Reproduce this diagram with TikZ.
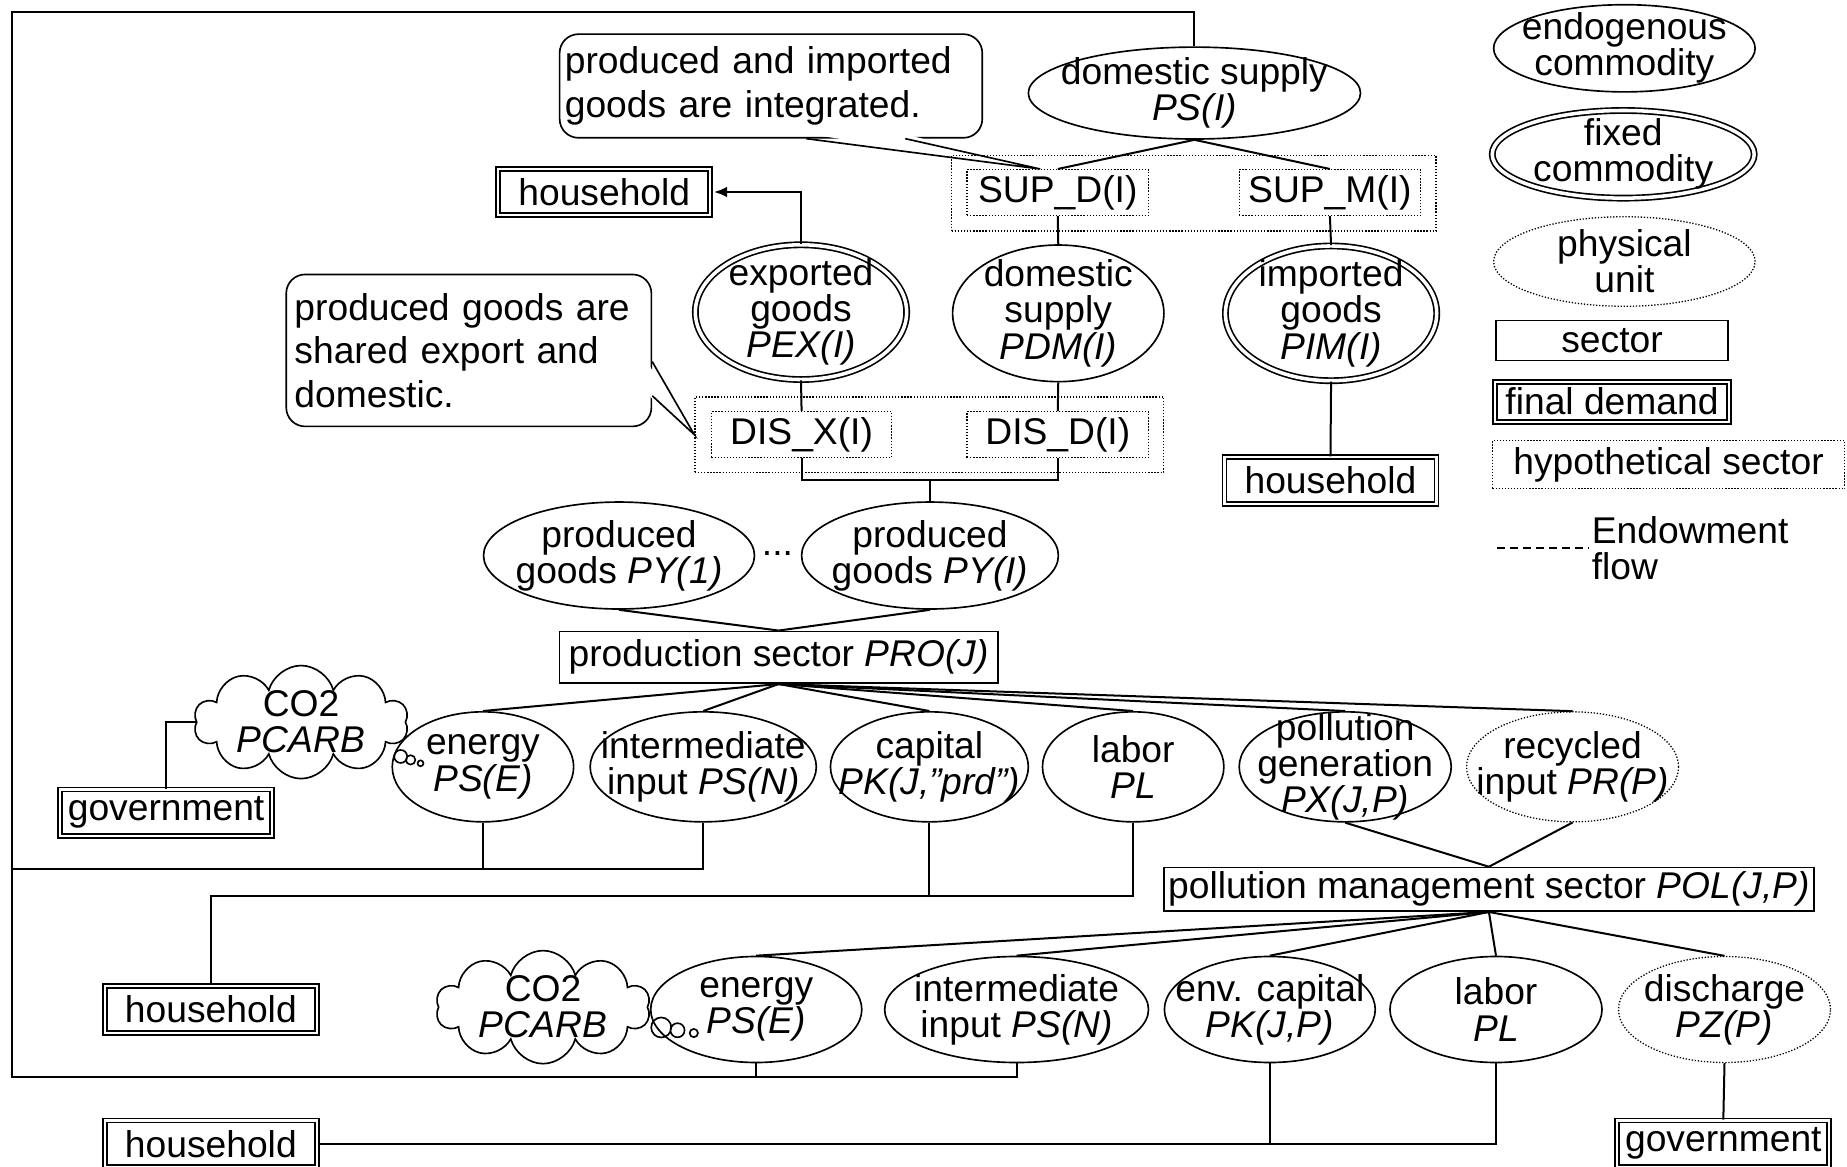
\documentclass[tikz,border=0pt]{standalone}
\usepackage{fontspec}
\setmainfont{Liberation Sans}
\usetikzlibrary{shapes.geometric,shapes.symbols,shapes.callouts,arrows.meta}

\tikzset{
  dotline/.style={line width=0.55pt, dash pattern=on 0.55pt off 0.75pt},
  commodity/.style={ellipse, draw, line width=0.7pt, inner xsep=-30pt, inner ysep=-20pt, align=center},
  fixedcomm/.style={commodity, double, double distance=1.5pt},
  physunit/.style={commodity, dotline},
  sectorbox/.style={rectangle, draw, line width=0.7pt, inner sep=0pt},
  hypobox/.style={sectorbox, dotline},
  finaldem/.style={sectorbox, double, line width=0.8pt, double distance=0.9pt, minimum width=90pt, minimum height=19.75pt},
  callbox/.style={rectangle, draw, line width=0.7pt, rounded corners=8pt, fill=white, align=left, font=\fontsize{15.8}{18.5}\selectfont},
  co2/.style={cloud callout, draw, line width=0.7pt, cloud puffs=10, cloud ignores aspect, inner xsep=-8pt, inner ysep=-8pt, align=center, minimum width=91pt, minimum height=48pt, callout pointer segments=3},
  link/.style={line width=0.85pt},
}

\begin{document}
\begin{tikzpicture}[x=0.5pt,y=-0.5pt,font=\fontsize{15.8}{15.3}\selectfont]
\useasboundingbox (0,0) rectangle (1568,990.7);

% legend
\node[commodity, minimum width=111pt, minimum height=37pt] (lgEndo) at (1379,41) {endogenous\\commodity};
\node[fixedcomm, minimum width=111.2pt, minimum height=37.2pt] (lgFixed) at (1378,131) {fixed\\commodity};
\node[physunit, minimum width=111pt, minimum height=38pt] (lgPhys) at (1379,222) {physical\\unit};
\node[sectorbox, minimum width=98.5pt, minimum height=17pt] (lgSector) at (1368.5,289) {sector};
\node[finaldem, minimum width=99pt, minimum height=17pt] (lgFinal) at (1368.5,341) {final demand};
\node[hypobox, minimum width=149.5pt, minimum height=20.5pt] (lgHypo) at (1416.5,394.5) {hypothetical sector};
\coordinate (lgFlowA) at (1271,465);
\coordinate (lgFlowB) at (1349,465);
\draw[line width=0.7pt, dash pattern=on 3.5pt off 2pt] (lgFlowA) -- (lgFlowB);
\node[anchor=west, align=left, inner sep=1pt] (lgFlow) at (lgFlowB) {Endowment\\flow};

% supply side
\node[commodity, minimum width=141pt, minimum height=39pt] (PS) at (1014,79) {domestic supply\\\textit{PS(I)}};
\node[callbox, text width=175pt, minimum height=44pt, inner xsep=2.2pt] (noteSup) at (654.5,73) {produced and imported\\goods are integrated.};
\node[hypobox, minimum width=77pt, minimum height=19.5pt] (SUPD) at (898,163.5) {SUP\_D(I)};
\node[hypobox, minimum width=77pt, minimum height=19.5pt] (SUPM) at (1129,163.5) {SUP\_M(I)};
\coordinate (noteSupTip) at ([xshift=-7.5pt]SUPD.north);
\fill[white] ([xshift=15.5pt,yshift=2pt]noteSup.south) -- (noteSupTip) -- ([xshift=56.5pt,yshift=2pt]noteSup.south) -- cycle;
\draw[line width=0.7pt] ([xshift=15pt]noteSup.south) -- (noteSupTip) -- ([xshift=57pt]noteSup.south);
\node[hypobox, minimum width=205.5pt, minimum height=32pt] (SUPbox) at (1013.5,164) {};

\node[finaldem] (hhExp) at (513,163) {household};
\node[fixedcomm, minimum width=89.7pt, minimum height=57.2pt] (PEX) at (680,265) {exported\\goods\\\textit{PEX(I)}};
\node[commodity, minimum width=89.7pt, minimum height=58pt] (PDM) at (898.4,266) {domestic\\supply\\\textit{PDM(I)}};
\node[fixedcomm, minimum width=89.7pt, minimum height=57.2pt] (PIM) at (1130,266) {imported\\goods\\\textit{PIM(I)}};
\node[finaldem] (hhImp) at (1129.5,408) {household};

% distribution
\node[callbox, text width=148pt, minimum height=64.5pt, inner xsep=3.5pt] (noteDis) at (398,297.5) {produced goods are\\shared export and\\domestic.};
\node[hypobox, minimum width=199pt, minimum height=32pt] (DISbox) at (789,369) {};
\node[hypobox, minimum width=76.5pt, minimum height=19.5pt] (DISX) at (680.5,369) {DIS\_X(I)};
\node[hypobox, minimum width=77pt, minimum height=19.5pt] (DISD) at (898,369) {DIS\_D(I)};
\fill[white] ([xshift=-2pt,yshift=-5.25pt]noteDis.east) -- (DISbox.west) -- ([xshift=-2pt,yshift=-18.75pt]noteDis.east) -- cycle;
\draw[line width=0.7pt] ([yshift=-4.75pt]noteDis.east) -- (DISbox.west) -- ([yshift=-19.25pt]noteDis.east);
\coordinate (DISjoin) at (789.5,407.5);

% production
\node[commodity, minimum width=115pt, minimum height=45.4pt] (PY1) at (525.5,471.6) {produced\\goods \textit{PY(1)}};
\node (dots) at (660,470) {...};
\node[commodity, minimum width=109pt, minimum height=45.4pt] (PYI) at (789.5,471.6) {produced\\goods \textit{PY(I)}};
\node[sectorbox, minimum width=186pt, minimum height=22pt] (PRO) at (661,558) {production sector \textit{PRO(J)}};

\node[co2, callout absolute pointer={(357,648)}, callout pointer start size=7.5pt and 7pt, callout pointer end size=2.5pt and 2.5pt] (carbA) at (255.6,613) {CO2\\\textit{PCARB}};
\node[finaldem] (govA) at (141,690) {government};
\node[commodity, minimum width=77pt, minimum height=46.7pt] (eng1) at (410,651) {energy\\\textit{PS(E)}};
\node[commodity, minimum width=96pt, minimum height=46.7pt] (int1) at (597,651) {intermediate\\input \textit{PS(N)}};
\node[commodity, minimum width=84pt, minimum height=46.7pt] (cap1) at (789,651) {capital\\\textit{PK(J,”prd”)}};
\node[commodity, minimum width=77pt, minimum height=46.7pt] (lab1) at (962,651) {labor\\\textit{PL}};
\node[commodity, minimum width=90pt, minimum height=46.7pt] (pgen) at (1142,651) {pollution\\generation\\\textit{PX(J,P)}};
\node[physunit, minimum width=90pt, minimum height=46.7pt] (rec) at (1335,651) {recycled\\input \textit{PR(P)}};

% pollution management
\node[sectorbox, minimum width=276pt, minimum height=18.5pt] (POL) at (1264,755) {pollution management sector \textit{POL(J,P)}};
\node[finaldem] (hhCap) at (179,857) {household};
\node[co2, callout absolute pointer={(589,877)}, callout pointer start size=12pt and 11pt, callout pointer end size=3.5pt and 3.5pt] (carbB) at (461,855) {CO2\\\textit{PCARB}};
\node[commodity, minimum width=89.6pt, minimum height=45pt] (eng2) at (642,857) {energy\\\textit{PS(E)}};
\node[commodity, minimum width=112pt, minimum height=45pt] (int2) at (863,857) {intermediate\\input \textit{PS(N)}};
\node[commodity, minimum width=89.5pt, minimum height=45pt] (ecap) at (1078,857) {env. capital\\\textit{PK(J,P)}};
\node[commodity, minimum width=90pt, minimum height=45pt] (lab2) at (1270,857) {labor\\\textit{PL}};
\node[physunit, minimum width=90pt, minimum height=45pt] (dis) at (1464,857) {discharge\\\textit{PZ(P)}};
\node[finaldem] (hhEnv) at (179,971) {household};
\node[finaldem] (govB) at (1463,971) {government};

% endowment frame
\coordinate (frameTL) at (10,10);
\coordinate (frameBL) at (10,914.5);
\coordinate (rowA) at (10,737.5);
\coordinate (rowB) at (179,760.6);
\draw[link] (PS.north) |- (frameTL) -- (frameBL) -| (int2.south);
\draw[link] (rowA) -| (int1.south);
\draw[link] (eng1.south) -- (eng1.south |- rowA);
\draw[link] (eng2.south) -- (eng2.south |- frameBL);
\draw[link] (hhCap.north) -- (rowB) -| (lab1.south);
\draw[link] (cap1.south) -- (cap1.south |- rowB);
\draw[link] (hhEnv.east) -| (lab2.south);
\draw[link] (ecap.south) -- (ecap.south |- hhEnv.east);
\draw[link] (dis.south) -- (govB.north);
\draw[link] (carbA.west) -| (govA.north);

% goods flows
\draw[link, -{Latex[length=5.5pt,width=4.5pt]}, shorten >=1.2pt] (PEX.north) |- (hhExp.east);
\draw[link] (PS.south) -- (SUPD.north);
\draw[link] (PS.south) -- (SUPM.north);
\draw[link] (SUPD.south) -- (PDM.north);
\draw[link] (SUPM.south) -- (PIM.north);
\draw[link] (PIM.south) -- (hhImp.north);
\draw[link] (PEX.south) -- (DISX.north);
\draw[link] (PDM.south) -- (DISD.north);
\draw[link] (DISX.south) |- (DISjoin) -| (DISD.south);
\draw[link] (DISjoin) -- (PYI.north);
\draw[link] (PY1.south) -- (PRO.north);
\draw[link] (PYI.south) -- (PRO.north);
\foreach \n in {eng1,int1,cap1,lab1,pgen,rec}
  \draw[link] (PRO.south) -- (\n.north);
\draw[link] (pgen.south) -- (POL.north);
\draw[link] (rec.south) -- (POL.north);
\foreach \n in {eng2,int2,ecap,lab2,dis}
  \draw[link] (POL.south) -- (\n.north);
\end{tikzpicture}
\end{document}
